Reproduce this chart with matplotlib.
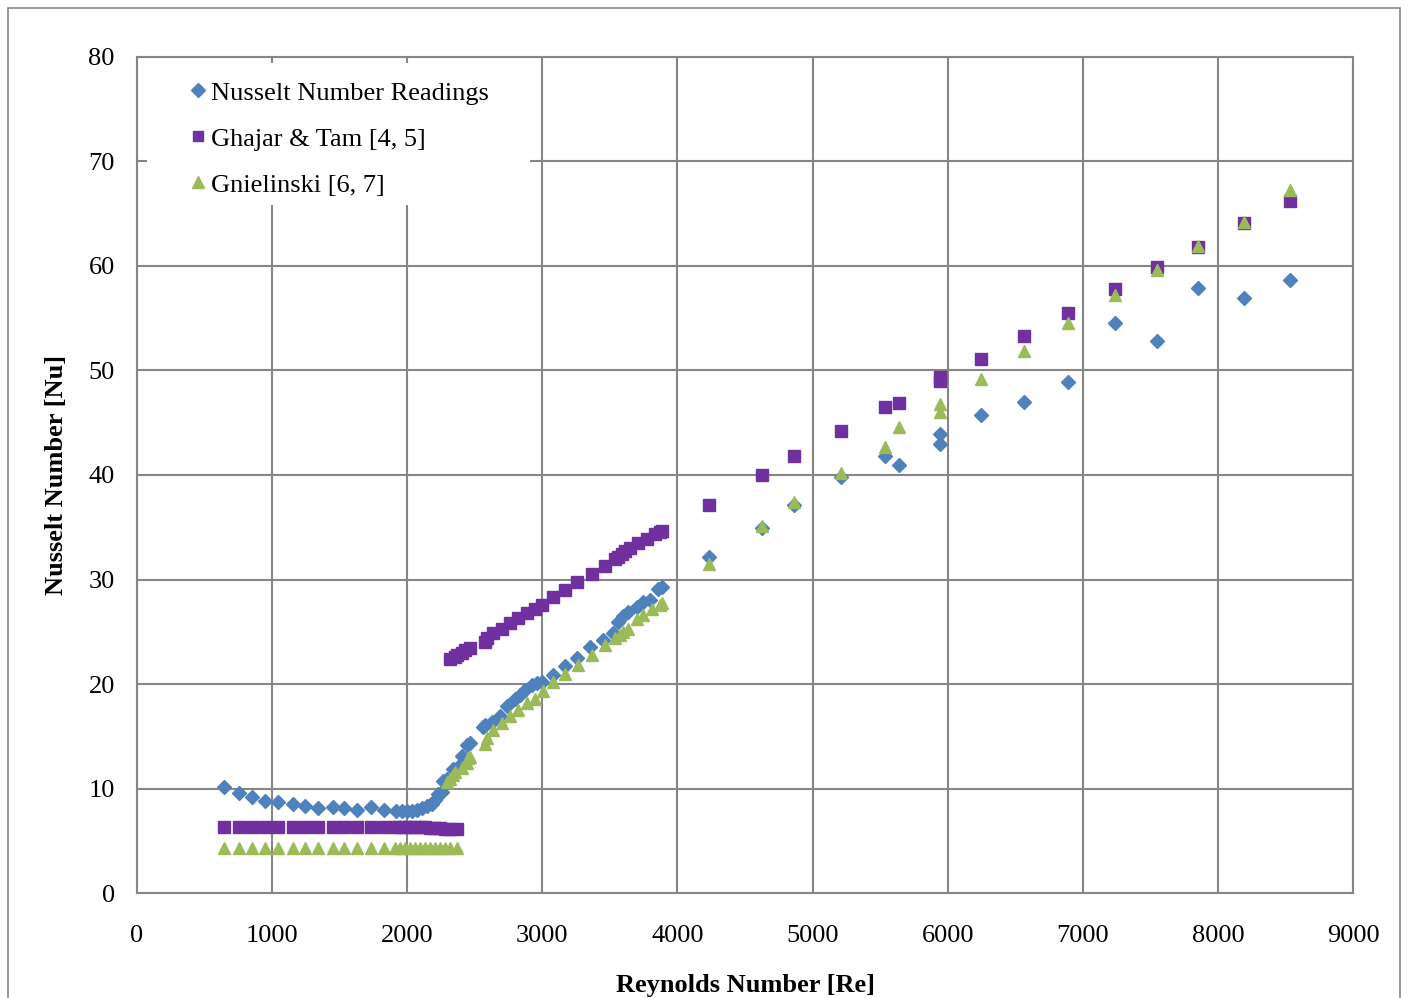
import matplotlib.pyplot as plt
from matplotlib.patches import Rectangle

# Nusselt number readings (diamonds)
re_readings = [644, 755, 851, 947, 1044, 1155, 1243, 1340, 1451, 1532, 1628, 1732, 1828,
               1917, 1959, 1996, 2033, 2070, 2107, 2144, 2181, 2206, 2230, 2255, 2267,
               2292, 2341, 2378, 2403, 2440, 2465,
               2563, 2576, 2625, 2687, 2741, 2798, 2835, 2872, 2921, 2960, 2995,
               3081, 3168, 3254, 3353, 3452, 3526, 3563, 3600, 3637, 3699, 3748, 3797, 3859, 3884,
               4231, 4623, 4861, 5211, 5537, 5639, 5941, 5941, 6245, 6568, 6893, 7237, 7551, 7849, 8190, 8534]
nu_readings = [10.1, 9.6, 9.15, 8.8, 8.7, 8.5, 8.35, 8.1, 8.2, 8.1, 7.95, 8.2, 7.9,
               7.85, 7.85, 7.8, 7.8, 7.95, 8.1, 8.3, 8.55, 8.9, 9.45, 9.7, 10.7,
               10.9, 11.9, 12.1, 13.1, 14.2, 14.4,
               15.9, 16.1, 16.4, 16.9, 17.9, 18.6, 18.95, 19.4, 19.9, 20.1, 20.2,
               20.9, 21.7, 22.5, 23.5, 24.2, 24.85, 25.96, 26.5, 26.9, 27.4, 27.8, 28.0, 29.1, 29.3,
               32.2, 34.9, 37.1, 39.8, 41.8, 41.0, 43.9, 42.95, 45.7, 47.0, 48.9, 54.5, 52.8, 57.9, 56.9, 58.7]

# laminar part of the correlations
re_lam = [644, 755, 851, 947, 1044, 1155, 1243, 1340, 1451, 1532, 1628, 1732, 1828,
          1910, 1947, 1984, 2021, 2058, 2095, 2132, 2169, 2206, 2243, 2280, 2317, 2366]
nu_ghajar_lam = [6.3, 6.3, 6.3, 6.3, 6.3, 6.3, 6.3, 6.3, 6.3, 6.3, 6.3, 6.3, 6.3,
                 6.35, 6.35, 6.35, 6.35, 6.3, 6.3, 6.3, 6.25, 6.2, 6.2, 6.15, 6.1, 6.1]
nu_gniel_lam = [4.3] * len(re_lam)

# Ghajar & Tam, transition/turbulent
re_ghajar = [2317, 2354, 2366, 2403, 2428, 2465, 2576, 2588, 2637, 2699, 2761, 2822, 2884, 2946,
             2995, 3081, 3168, 3259, 3365, 3464, 3538, 3563, 3587, 3612, 3649, 3711, 3772, 3834,
             3871, 3884, 4231, 4623, 4861, 5211, 5537, 5639, 5941, 5941, 6245, 6568, 6893, 7237,
             7551, 7849, 8190, 8534]
nu_ghajar = [22.4, 22.6, 22.8, 23.0, 23.3, 23.4, 24.0, 24.4, 24.85, 25.3, 25.8, 26.3, 26.75, 27.2,
             27.55, 28.35, 29.0, 29.8, 30.5, 31.3, 32.0, 32.2, 32.4, 32.7, 33.0, 33.5, 33.9, 34.4,
             34.5, 34.6, 37.15, 40.0, 41.8, 44.25, 46.55, 46.9, 49.35, 49.0, 51.1, 53.3, 55.5, 57.8,
             59.9, 61.85, 64.1, 66.2]

# Gnielinski, transition/turbulent
re_gniel = [2292, 2317, 2341, 2354, 2403, 2440, 2452, 2465, 2576, 2588, 2637, 2699, 2761, 2822,
            2884, 2946, 3008, 3081, 3168, 3266, 3365, 3464, 3538, 3575, 3600, 3637, 3699, 3748,
            3810, 3871, 3884, 4231, 4623, 4861, 5211, 5537, 5639, 5941, 5941, 6245, 6568, 6893,
            7237, 7551, 7849, 8190, 8534]
nu_gniel = [10.65, 10.95, 11.3, 11.6, 12.0, 12.4, 12.9, 13.0, 14.3, 14.8, 15.6, 16.3, 16.9, 17.5,
            18.15, 18.6, 19.3, 20.2, 21.0, 21.8, 22.8, 23.7, 24.4, 24.7, 25.0, 25.3, 26.2, 26.6,
            27.2, 27.6, 27.75, 31.5, 35.1, 37.4, 40.2, 42.7, 44.6, 46.8, 46.0, 49.2, 51.9, 54.5,
            57.2, 59.6, 61.9, 64.2, 67.3]

plt.rcParams['font.family'] = ['Liberation Serif', 'DejaVu Serif']

fig = plt.figure(figsize=(14.08, 9.98), dpi=100)
ax = fig.add_axes([0.0973, 0.1052, 0.8637, 0.8377])

grid_col = '#868686'
ax.plot(re_readings, nu_readings, 'D', color='#4F81BD', markersize=7.5, label='Nusselt Number Readings', zorder=3)
ax.plot(re_lam + re_ghajar, nu_ghajar_lam + nu_ghajar, 's', color='#7030A0', markersize=8.5,
        label='Ghajar & Tam [4, 5]', zorder=3)
ax.plot(re_lam + re_gniel, nu_gniel_lam + nu_gniel, '^', color='#9BBB59', markersize=9,
        label='Gnielinski [6, 7]', zorder=3)

ax.set_xlim(0, 9000)
ax.set_ylim(0, 80)
ax.set_xticks(range(0, 9001, 1000))
ax.set_yticks(range(0, 81, 10))
ax.grid(True, color=grid_col, linewidth=1.5)
ax.set_axisbelow(True)
for s in ax.spines.values():
    s.set_color(grid_col)
    s.set_linewidth(1.5)
ax.tick_params(length=0, labelsize=19)
ax.tick_params(axis='x', pad=23)
ax.tick_params(axis='y', pad=16)

ax.set_xlabel('Reynolds Number [Re]', fontsize=19, fontweight='bold', labelpad=19.5)
ax.set_ylabel('Nusselt Number [Nu]', fontsize=19, fontweight='bold', labelpad=15)

# white legend area, as in the spreadsheet chart
ax.add_patch(Rectangle((0.0082, 0.823), 0.315, 0.17, transform=ax.transAxes,
                       facecolor='white', edgecolor='none', zorder=1))
leg = ax.legend(loc='upper left', bbox_to_anchor=(0.0415, 0.971), fontsize=19, frameon=False,
                borderpad=0, handletextpad=0.1, markerscale=0.9, labelspacing=0.85,
                handlelength=0.8, borderaxespad=0)

fig.patches.append(Rectangle((0.006, -0.01), 0.988, 1.002, transform=fig.transFigure,
                             fill=False, edgecolor=grid_col, linewidth=1.2))

plt.savefig('out.png', dpi=100)
